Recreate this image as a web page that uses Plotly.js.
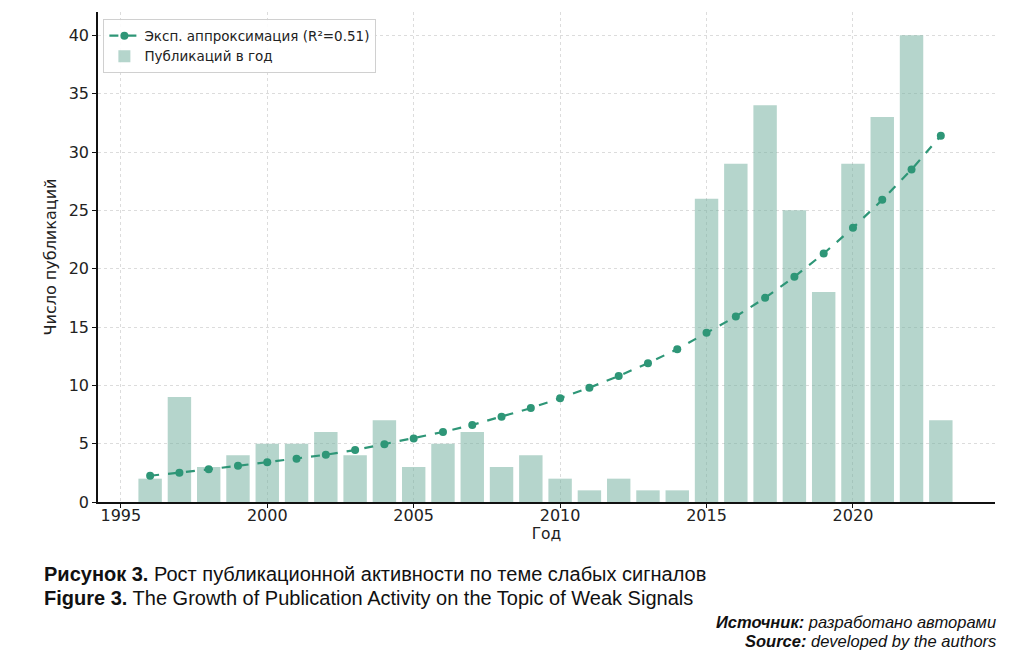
<!DOCTYPE html>
<html>
<head>
<meta charset="utf-8">
<script src="https://cdn.plot.ly/plotly-3.0.1.min.js"></script>
<style>html,body{margin:0;padding:0;background:#fff;}#chart{width:1022px;height:662px;}</style>
</head>
<body>
<div id="chart"></div>
<script>
const years = [1996,1997,1998,1999,2000,2001,2002,2003,2004,2005,2006,2007,2008,2009,2010,2011,2012,2013,2014,2015,2016,2017,2018,2019,2020,2021,2022,2023];
const publications = [2,9,3,4,5,5,6,4,7,3,5,6,3,4,2,1,2,1,1,26,29,34,25,18,29,33,40,7];
const fitValues = [2.25,2.5,2.8,3.1,3.4,3.7,4.05,4.45,4.95,5.45,6.0,6.6,7.3,8.05,8.9,9.8,10.8,11.9,13.1,14.5,15.9,17.5,19.3,21.3,23.5,25.9,28.5,31.4];
const xTicks = [1995,2000,2005,2010,2015,2020];
const yTicks = [0,5,10,15,20,25,30,35,40];

const FONT = 'DejaVu Sans, sans-serif';
const CAP = 'Liberation Sans, sans-serif';
const data = [
  {
    type: 'scatter', mode: 'lines+markers', x: years, y: fitValues,
    name: 'Эксп. аппроксимация (R²=0.51)',
    line: {color: '#2e9677', width: 2.2, dash: 'dash'},
    marker: {color: '#2e9677', size: 8}
  },
  {
    type: 'bar', x: years, y: publications, width: 0.8,
    name: 'Публикаций в год',
    marker: {color: 'rgba(121,179,162,0.55)', line: {width: 0}}
  }
];
const layout = {
  width: 1022, height: 662,
  margin: {l: 98, r: 27, t: 12, b: 160},
  paper_bgcolor: '#fff', plot_bgcolor: '#fff',
  font: {family: FONT, size: 15, color: '#222'},
  showlegend: true,
  legend: {x: 0.006, y: 0.985, xanchor: 'left', yanchor: 'top', bgcolor: 'rgba(255,255,255,0.9)', bordercolor: '#d0d0d0', borderwidth: 1, font: {family: FONT, size: 13.5, color: '#222'}, traceorder: 'normal', tracegroupgap: 0},
  xaxis: {
    range: [1994.22, 2024.85], tickvals: xTicks, ticktext: xTicks.map(String),
    showgrid: true, gridcolor: '#dcdcdc', griddash: '3px,3px', gridwidth: 0.8,
    showline: true, linecolor: '#111', linewidth: 1.5, zeroline: false,
    ticks: 'outside', ticklen: 4, tickcolor: '#111', ticklabelstandoff: -6,
    tickfont: {family: FONT, size: 16, color: '#222'},
    title: {text: 'Год', font: {family: FONT, size: 15.5, color: '#222'}, standoff: 0}
  },
  yaxis: {
    range: [0, 42], tickvals: yTicks,
    showgrid: true, gridcolor: '#dcdcdc', griddash: '3px,3px', gridwidth: 0.8,
    showline: true, linecolor: '#111', linewidth: 1.5, zeroline: false,
    ticks: 'outside', ticklen: 4, tickcolor: '#111',
    tickfont: {family: FONT, size: 16, color: '#222'},
    title: {text: 'Число публикаций', font: {family: FONT, size: 16, color: '#222'}, standoff: 8}
  },
  annotations: [
    {xref: 'paper', yref: 'paper', x: -0.062, y: -0.147, xanchor: 'left', yanchor: 'middle', showarrow: false,
     text: '<b>Рисунок 3.</b> Рост публикационной активности по теме слабых сигналов',
     font: {family: CAP, size: 20, color: '#111'}},
    {xref: 'paper', yref: 'paper', x: -0.062, y: -0.196, xanchor: 'left', yanchor: 'middle', showarrow: false,
     text: '<b>Figure 3.</b> The Growth of Publication Activity on the Topic of Weak Signals',
     font: {family: CAP, size: 20, color: '#111'}},
    {xref: 'paper', yref: 'paper', x: 1.003, y: -0.245, xanchor: 'right', yanchor: 'middle', showarrow: false,
     text: '<b><i>Источник:</i></b><i> разработано авторами</i>',
     font: {family: CAP, size: 16.5, color: '#111'}},
    {xref: 'paper', yref: 'paper', x: 1.003, y: -0.284, xanchor: 'right', yanchor: 'middle', showarrow: false,
     text: '<b><i>Source:</i></b><i> developed by the authors</i>',
     font: {family: CAP, size: 16.5, color: '#111'}}
  ]
};
Plotly.newPlot('chart', data, layout, {displayModeBar: false, responsive: false});
</script>
</body>
</html>
